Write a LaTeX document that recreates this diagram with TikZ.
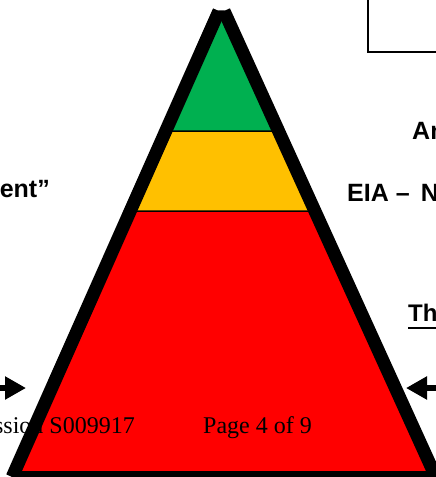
\documentclass[tikz,border=0pt]{standalone}
\usepackage{fontspec}
\setmainfont{Liberation Serif}
\newfontfamily\arialfont{Liberation Sans}
\usetikzlibrary{arrows.meta}
\definecolor{topgreen}{HTML}{00B050}
\definecolor{midyellow}{HTML}{FFC000}
\definecolor{lowred}{HTML}{FF0000}
\begin{document}
\begin{tikzpicture}[x=1pt, y=-1pt,
  layer/.style = {draw=black, line width=1.5pt},
  edge/.style = {line width=13pt, line cap=butt},
  boldtext/.style = {inner sep=0pt, font=\arialfont\bfseries\fontsize{25}{30}\selectfont},
  foottext/.style = {inner sep=0pt, font=\fontsize{24}{28}\selectfont},
  pointer/.style = {line width=6.5pt, -{Triangle[length=21pt, width=22pt]}}]
  \useasboundingbox (0,0) rectangle (436,477);

  \coordinate (topL) at (219,11);
  \coordinate (topR) at (224,11);
  \coordinate (g1) at (165.8,131);
  \coordinate (g2) at (278.5,131);
  \coordinate (y1) at (130.3,211);
  \coordinate (y2) at (314.9,211);
  \coordinate (baseL) at (12.2,477);
  \coordinate (baseR) at (435.8,477);

  % pyramid layers
  \filldraw[layer, fill=lowred] (y1) -- (y2) -- (baseR) -- (baseL) -- cycle;
  \filldraw[layer, fill=midyellow] (g1) -- (g2) -- (y2) -- (y1) -- cycle;
  \filldraw[layer, fill=topgreen] (topL) -- (topR) -- (g2) -- (g1) -- cycle;
  \draw[edge] (topL) -- (baseL);
  \draw[edge] (topR) -- (baseR);
  \draw[edge] (baseL) -- (baseR);

  \draw[line width=1.5pt] (368,-5) rectangle (445,52);

  \node[boldtext, anchor=base east] (ent) at (50,197) {ent”};
  \node[boldtext, anchor=base west] (an) at (412,139) {An};
  \node[boldtext, anchor=base west] (eia) at (347,201) {EIA –\hspace{0.45em}N};
  \node[boldtext, anchor=base west, font=\arialfont\bfseries\fontsize{24}{28}\selectfont] (th) at (408,321) {Th};
  \draw[line width=2.7pt] ([yshift=-7pt]th.base west) -- ++(40,0);

  \coordinate (leftin) at (0,388);
  \coordinate (lefttip) at (26,388);
  \coordinate (rightin) at (436,388);
  \coordinate (righttip) at (406,388);
  \draw[pointer] (leftin) -- (lefttip);
  \draw[pointer] (rightin) -- (righttip);

  \node[foottext, anchor=base east] (sess) at (135,433) {ssion S009917};
  \node[foottext, anchor=base west] (page) at (203,433) {Page 4 of 9};
\end{tikzpicture}
\end{document}
